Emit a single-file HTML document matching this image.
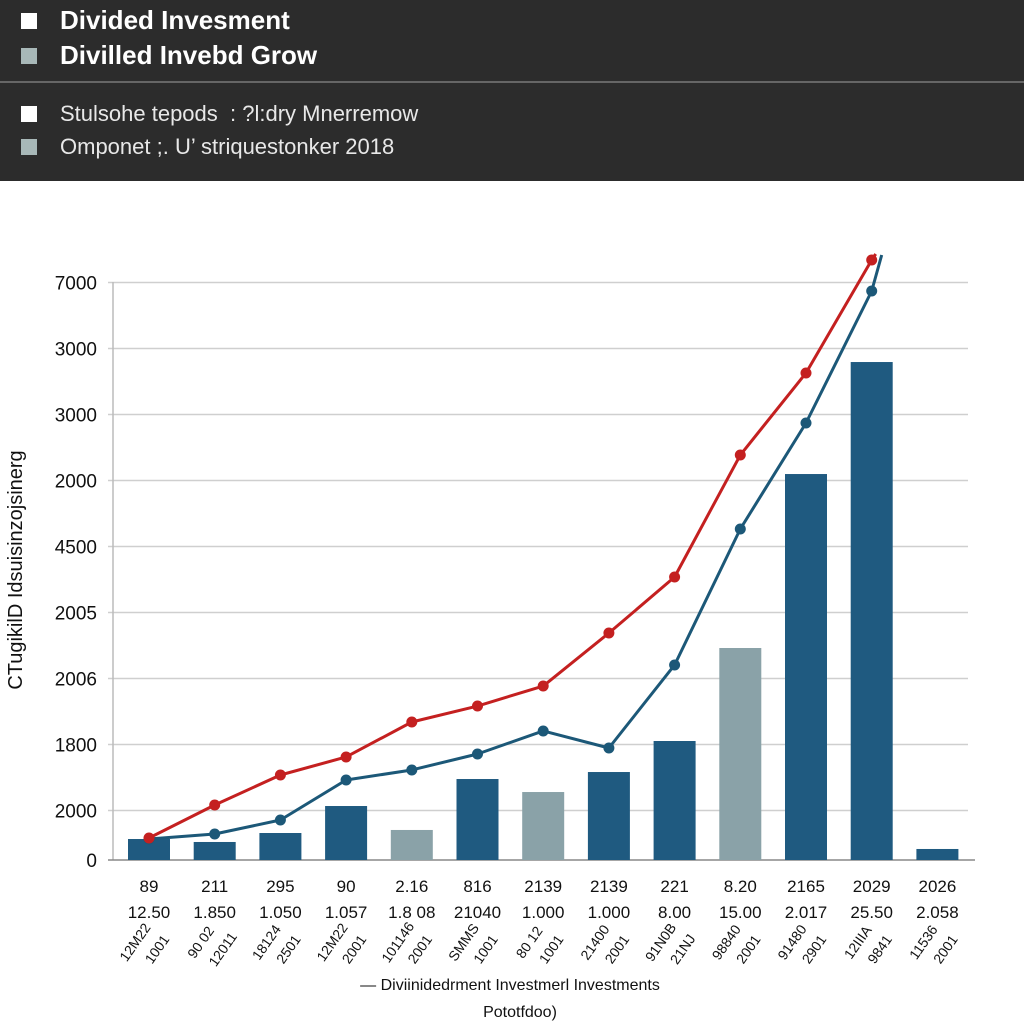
<!DOCTYPE html>
<html><head><meta charset="utf-8"><style>
html,body{margin:0;padding:0;background:#fff;}
body{width:1024px;height:1024px;overflow:hidden;position:relative;font-family:"Liberation Sans",sans-serif;}
#hdr{position:absolute;left:0;top:0;width:1024px;height:181px;background:#2c2c2c;}
.sq{position:absolute;left:21px;width:16px;height:16px;}
.ht{position:absolute;left:60px;color:#fff;white-space:nowrap;}
</style></head><body>
<div id="hdr">
 <div class="sq" style="top:13px;background:#fff"></div>
 <div class="ht" style="top:5px;font-size:26px;font-weight:bold">Divided Invesment</div>
 <div class="sq" style="top:48px;background:#a8b8b8"></div>
 <div class="ht" style="top:40px;font-size:26px;font-weight:bold">Divilled Invebd Grow</div>
 <div style="position:absolute;left:0;top:81px;width:1024px;height:2px;background:#666"></div>
 <div class="sq" style="top:106px;background:#fff"></div>
 <div class="ht" style="top:101px;font-size:22px;color:#e8e8e8">Stulsohe tepods &nbsp;: ?l:dry Mnerremow</div>
 <div class="sq" style="top:139px;background:#a8b8b8"></div>
 <div class="ht" style="top:134px;font-size:22px;color:#e8e8e8">Omponet ;. U’ striquestonker 2018</div>
</div>
<svg id="chart" width="1024" height="1024" style="position:absolute;left:0;top:0"></svg>
<script>
const categories=["89","211","295","90","2.16","816","2139","2139","221","8.20","2165","2029","2026"];
const catSub=["12.50","1.850","1.050","1.057","1.8 08","21040","1.000","1.000","8.00","15.00","2.017","25.50","2.058"];
const catRot1=["12M22","90 02","18124","12M22","101146","SMMS","80 12","21400","91N0B","98840","91480","12IIIA","11536"];
const catRot2=["1001","12011","2501","2001","2001","1001","1001","2001","21NJ","2001","2901","9841","2001"];
const barValues=[318,273,409,818,455,1227,1030,1333,1803,3212,5848,7545,167];
const barGray=[0,0,0,0,1,0,1,0,0,1,0,0,0];
const blueValues=[318,394,606,1212,1364,1606,1955,1697,2955,5015,6621,8621];
const redValues=[333,833,1288,1561,2091,2333,2636,3439,4288,6136,7379,9091];
const tickValues=[0,750,1750,2750,3750,4750,5750,6750,7750,8750];
const tickLabels=["0","2000","1800","2006","2005","4500","2000","3000","3000","7000"];

const NS="http://www.w3.org/2000/svg";
const svg=document.getElementById('chart');
const x0=116,step=65.7,base=860,k=0.066;
const xs=i=>x0+33+i*step;
const ys=v=>base-v*k;
function el(t,a,p){const e=document.createElementNS(NS,t);for(const n in a)e.setAttribute(n,a[n]);(p||svg).appendChild(e);return e;}

tickValues.forEach((v,i)=>{
 const y=ys(v);
 if(i>0){const g=el('line',{x1:108,x2:968,y1:y,y2:y,stroke:'#cfcfcf','stroke-width':1.5});
 
 }
 const t=el('text',{x:97,y:y+7,'text-anchor':'end','font-size':19,fill:'#111'});
 t.textContent=tickLabels[i];
 
 
});
const ax=el('line',{x1:113,x2:113,y1:282,y2:860,stroke:'#bbb','stroke-width':1.5});


const bx=el('line',{x1:108,x2:975,y1:860,y2:860,stroke:'#888','stroke-width':1.5});



barValues.forEach((v,i)=>{
 const r=el('rect',{x:xs(i)-21,y:ys(v),width:42,height:base-ys(v),fill:barGray[i]?'#8aa2a8':'#1f5a80'});
 
 
});
function series(vals,color,name,tail){
 const pts=vals.map((v,i)=>[xs(i),ys(v)]);
 const last=pts[pts.length-1];
 const all=pts.concat([[last[0]+tail[0],last[1]+tail[1]]]);
 const p=el('polyline',{points:all.map(p=>p.join(',')).join(' '),fill:'none',stroke:color,'stroke-width':3,'stroke-linejoin':'round'});
 
 
 pts.forEach(q=>{const c=el('circle',{cx:q[0],cy:q[1],r:5.5,fill:color});
 
 });
}
series(blueValues,'#1c5878','blue-series',[10,-36]);
series(redValues,'#c42020','red-series',[4,-6]);

categories.forEach((c,i)=>{
 const x=xs(i);
 const a=el('text',{x:x,y:892,'text-anchor':'middle','font-size':17,fill:'#111'});a.textContent=c;
 
 
 const b=el('text',{x:x,y:918,'text-anchor':'middle','font-size':17,fill:'#111'});b.textContent=catSub[i];
 
 
 const r1=el('text',{x:x-10,y:945,'text-anchor':'middle','font-size':14,fill:'#111',transform:`rotate(-55 ${x-10} 945)`});r1.textContent=catRot1[i];
 
 
 const r2=el('text',{x:x+12,y:952,'text-anchor':'middle','font-size':14,fill:'#111',transform:`rotate(-55 ${x+12} 952)`});r2.textContent=catRot2[i];
 
 
});
const yt=el('text',{x:22,y:570,'text-anchor':'middle','font-size':20,fill:'#111',transform:'rotate(-90 22 570)'});
yt.textContent='CTugikilD Idsuisinzojsinerg';


const lg=el('text',{x:510,y:990,'text-anchor':'middle','font-size':16,fill:'#111'});
lg.textContent='— Diviinidedrment Investmerl Investments';


const xt=el('text',{x:520,y:1017,'text-anchor':'middle','font-size':16,fill:'#111'});
xt.textContent='Pototfdoo)';


</script>
</body></html>
